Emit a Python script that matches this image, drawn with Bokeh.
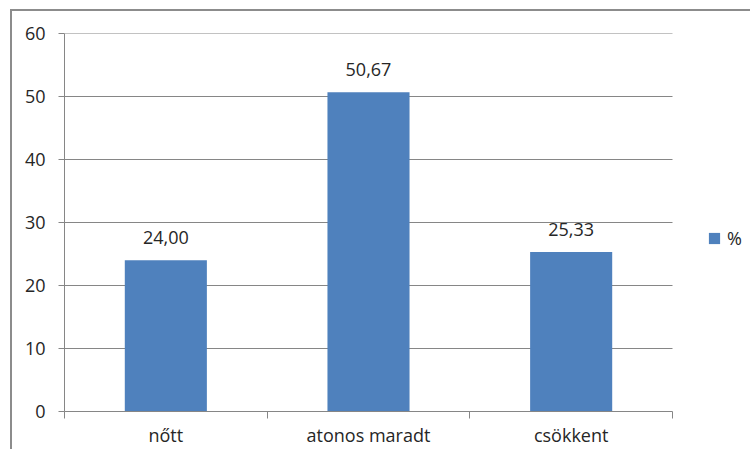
from bokeh.plotting import figure
from bokeh.models import (ColumnDataSource, FixedTicker, LabelSet, Legend, LegendItem, Range1d)
from bokeh.core.properties import value
from bokeh.embed import file_html
from bokeh.resources import INLINE

categories = ["nőtt", "atonos maradt", "csökkent"]
values = [24.00, 50.67, 25.33]
series_name = "%"
y_ticks = [0, 10, 20, 30, 40, 50, 60]

FONT = "Open Sans"
FS = "18px"
TXT = "#262626"
GRID = "#868686"
BAR = "#4F81BD"

n = len(categories)
xs = [i + 0.5 for i in range(n)]
labels = [f"{v:.2f}".replace(".", ",") for v in values]
src = ColumnDataSource(dict(x=xs, top=values, lab=labels))

W, H = 740, 440
LEFT, TOP, BOTTOM = 52, 22, 40
FRAME_W = W - LEFT     # plot area incl. legend zone
CAT_W = 608            # width of the category zone
x_end = n * FRAME_W / CAT_W

p = figure(width=W, height=H, output_backend="svg", toolbar_location=None,
           x_range=Range1d(0, x_end), y_range=Range1d(0, 60),
           min_border_left=LEFT, min_border_right=0, min_border_top=TOP, min_border_bottom=BOTTOM,
           styles={"border-left": "2px solid #8c8c8c", "border-top": "2px solid #8c8c8c",
                   "margin-left": "10px", "margin-top": "9px"})
p.outline_line_color = None
p.background_fill_color = "white"
p.border_fill_color = "white"

# horizontal gridlines limited to the category zone
p.segment(x0=[0] * (len(y_ticks) - 1), x1=[n] * (len(y_ticks) - 1),
          y0=y_ticks[1:], y1=y_ticks[1:], line_color=GRID, line_width=1)

r = p.vbar(x="x", top="top", width=0.405, bottom=0, source=src,
           fill_color=BAR, line_color=None)

xa = p.xaxis[0]
xa.bounds = (0, n)
xa.ticker = FixedTicker(ticks=xs, minor_ticks=list(range(n + 1)))
xa.major_label_overrides = {x: c for x, c in zip(xs, categories)}
xa.major_tick_out = 0
xa.major_tick_in = 0
xa.minor_tick_out = 7
xa.minor_tick_in = 0
xa.minor_tick_line_color = GRID
xa.axis_line_color = GRID
xa.major_label_standoff = 4
xa.major_label_text_font = FONT
xa.major_label_text_font_size = FS
xa.major_label_text_color = TXT

ya = p.yaxis[0]
ya.ticker = FixedTicker(ticks=y_ticks, minor_ticks=[])
ya.major_tick_out = 6
ya.major_tick_in = 0
ya.major_tick_line_color = GRID
ya.axis_line_color = GRID
ya.major_label_standoff = 13
ya.major_label_text_font = FONT
ya.major_label_text_font_size = FS
ya.major_label_text_color = TXT

p.xgrid.visible = False
p.ygrid.visible = False

lbl = LabelSet(x="x", y="top", text="lab", source=src, y_offset=16,
               text_align="center", text_baseline="alphabetic",
               text_font=value(FONT), text_font_size=FS, text_color=TXT)
p.add_layout(lbl)

legend = Legend(items=[LegendItem(label=series_name, renderers=[r])],
                location=(643, 161), padding=0, margin=0, spacing=0,
                glyph_width=14, glyph_height=14, label_standoff=6,
                border_line_color=None, background_fill_alpha=0,
                label_text_font=FONT, label_text_font_size=FS,
                label_text_color=TXT)
p.add_layout(legend, "center")

open("out.html", "w").write(file_html(p, INLINE))
